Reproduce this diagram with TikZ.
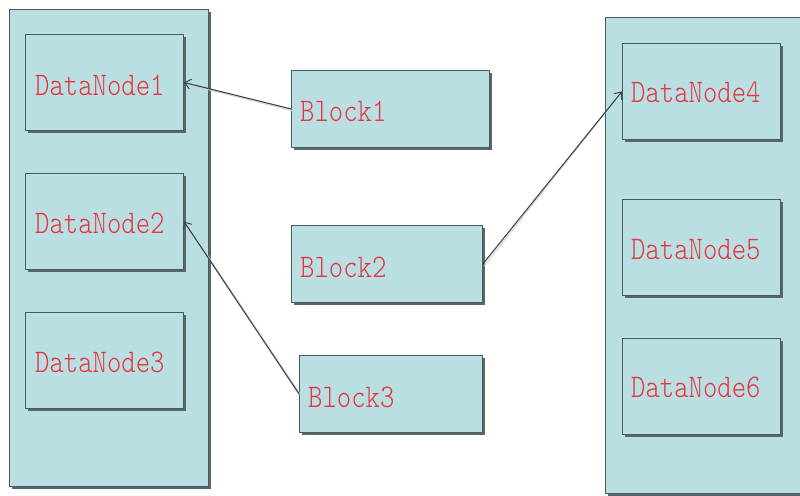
\documentclass[tikz,border=0pt]{standalone}
\usepackage{fontspec}
\newfontfamily\labelfont{lmmonolt10-regular.otf}[FakeStretch=0.83]
\usetikzlibrary{shadows,arrows.meta}
\definecolor{boxfill}{HTML}{B9DFE2}
\definecolor{boxline}{HTML}{4A5B5E}
\definecolor{shadowgray}{HTML}{59676A}
\definecolor{labelred}{HTML}{E8343E}
\definecolor{linkgray}{HTML}{3C4646}

\begin{document}
\begin{tikzpicture}[x=1pt,y=-1pt,
  panel/.style={rectangle, draw=boxline, line width=0.9pt, fill=boxfill,
    anchor=north west, inner sep=0pt,
    drop shadow={shadow xshift=2.2pt, shadow yshift=-2.2pt, fill=shadowgray, opacity=1}},
  rack/.style={panel, minimum width=199pt, minimum height=477pt},
  dnode/.style={panel, minimum width=158pt, minimum height=96pt},
  block/.style={panel, minimum height=77pt},
  lbl/.style={anchor=base west, inner sep=0pt, text=labelred,
    font=\labelfont\fontsize{33pt}{33pt}\selectfont},
  link/.style={draw=linkgray, line width=1.1pt,
    -{Straight Barb[length=6pt,width=10pt,line width=1pt]}},
  linkshade/.style={draw=gray!35, line width=0.9pt}
]
\useasboundingbox (0,0) rectangle (800,495);
\fill[white] (0,0) rectangle (800,495);

% racks holding the data nodes
\node[rack] (rackA) at (9,9) {};
\node[rack, minimum width=205pt, minimum height=476pt] (rackB) at (605,17) {};

% data nodes, left rack
\node[dnode] (dn1) at (25,34) {};
\node[dnode] (dn2) at (25,173) {};
\node[dnode] (dn3) at (25,312) {};
% data nodes, right rack
\node[dnode] (dn4) at (622,43) {};
\node[dnode] (dn5) at (622,199) {};
\node[dnode] (dn6) at (622,338) {};

% blocks
\node[block, minimum width=198pt] (b1) at (291,70) {};
\node[block, minimum width=191pt] (b2) at (291,225) {};
\node[block, minimum width=183pt] (b3) at (299,355) {};

% labels
\node[lbl] at (35,95) {DataNode1};
\node[lbl] at (35,233) {DataNode2};
\node[lbl] at (35,372) {DataNode3};
\node[lbl] at (631,102) {DataNode4};
\node[lbl] at (631,259) {DataNode5};
\node[lbl] at (631,397) {DataNode6};
\node[lbl] at (300,121) {Block1};
\node[lbl] at (300,277) {Block2};
\node[lbl] at (308,407) {Block3};

% block placement links
\draw[linkshade] ([shift={(1.5pt,-1.8pt)}]b1.west) -- ([shift={(3pt,-1.8pt)}]dn1.east);
\draw[linkshade] ([shift={(1.5pt,-1.8pt)}]b2.east) -- ([shift={(-2pt,-2.5pt)}]dn4.west);
\draw[linkshade] ([shift={(1.8pt,-1pt)}]b3.west) -- ([shift={(3pt,-3pt)}]dn2.east);
\draw[link] (b1.west) -- (dn1.east);
\draw[link] (b2.east) -- (dn4.west);
\draw[link] (b3.west) -- (dn2.east);
\end{tikzpicture}
\end{document}
